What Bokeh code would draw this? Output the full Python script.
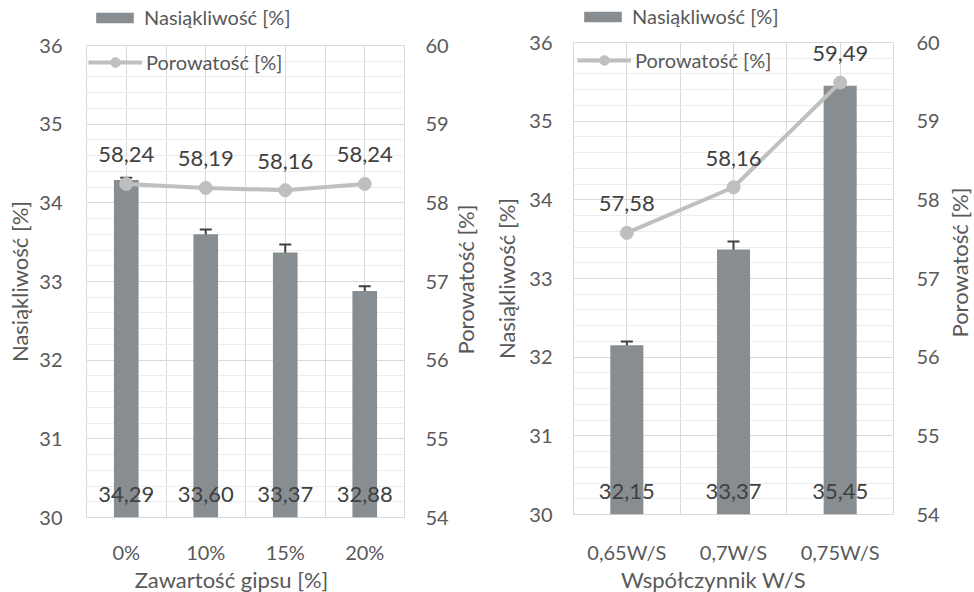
import math
from bokeh.plotting import figure
from bokeh.models import (Range1d, LinearAxis, FixedTicker, SingleIntervalTicker, Label,
                          ColumnDataSource, Whisker, TeeHead, Legend, LegendItem, LabelSet)
from bokeh.core.properties import value
from bokeh.layouts import row, column
from bokeh.embed import file_html
from bokeh.resources import INLINE

# ---- data: panel 1 (gypsum content) ----
gyp_categories = ["0%", "10%", "15%", "20%"]
gyp_absorption = [34.29, 33.60, 33.37, 32.88]
gyp_absorption_err = [0.03, 0.06, 0.10, 0.06]
gyp_porosity = [58.24, 58.19, 58.16, 58.24]

# ---- data: panel 2 (W/S ratio) ----
ws_categories = ["0,65W/S", "0,7W/S", "0,75W/S"]
ws_absorption = [32.15, 33.37, 35.45]
ws_absorption_err = [0.05, 0.10, 0.05]
ws_porosity = [57.58, 58.16, 59.49]

abs_range = (30, 36)
por_range = (54, 60)

BAR = "#878d90"
LINE = "#bfbfbf"
LBL = "#404040"
AX = "#595959"
GRID = "#d9d9d9"
MINOR = "#ececec"
FONT = "Lato"

LEG_STYLE = dict(margin=0, padding=0, border_line_color=None, background_fill_alpha=0,
                 label_text_font=FONT, label_text_font_size="20px", label_text_color=AX,
                 label_height=24)
TITLE_STYLE = dict(x_units="screen", y_units="screen", text_align="center",
                   text_baseline="middle", text_font=FONT, text_font_size="22px",
                   text_color=AX)

TOP_STRIP = 30
BOTTOM_STRIP = 26
MAIN_H = 592 - TOP_STRIP - BOTTOM_STRIP


def fmt(v):
    return f"{v:.2f}".replace(".", ",")


def make_source(absorption, err, porosity):
    n = len(absorption)
    return ColumnDataSource(dict(
        x=[i + 0.5 for i in range(n)], a=absorption, por=porosity,
        up=[a + e for a, e in zip(absorption, err)],
        lo=[a - e for a, e in zip(absorption, err)],
        a_lbl=[fmt(v) for v in absorption],
        p_lbl=[fmt(v) for v in porosity],
        base=[abs_range[0]] * n,
    ))


def blank(width, height, left, right, top, bottom):
    f = figure(width=width, height=height, x_range=Range1d(100, 101),
               y_range=Range1d(100, 101), x_axis_type=None, y_axis_type=None,
               output_backend="svg", toolbar_location=None, title=None,
               min_border_left=left, min_border_right=right,
               min_border_top=top, min_border_bottom=bottom)
    f.outline_line_color = None
    return f


def legend_strip(src, width, left, right, loc):
    # strip above the plot area holding the bar-series legend entry
    f = blank(width, TOP_STRIP, left, right, 0, 0)
    r = f.vbar(x="x", top="a", bottom="base", width=0.31, source=src,
               fill_color=BAR, line_color=None)
    f.add_layout(Legend(items=[LegendItem(label="Nasiąkliwość [%]", renderers=[r])],
                        location=loc, glyph_width=47, glyph_height=13, label_standoff=6,
                        **LEG_STYLE))
    return f


def side_title(width, top, bottom, pos):
    # secondary-axis title, reading bottom to top
    f = blank(width, MAIN_H, 0, 0, top, bottom)
    f.add_layout(Label(x=pos[0], y=pos[1], text="Porowatość [%]", angle=math.pi / 2,
                       **TITLE_STYLE))
    return f


def bottom_title(width, left, right, text, pos):
    f = blank(width, BOTTOM_STRIP, left, right, 0, 0)
    f.add_layout(Label(x=pos[0], y=pos[1], text=text, **TITLE_STYLE))
    return f


def panel(categories, src, width, borders, st, leg2):
    b_left, b_right, b_top, b_bottom = borders
    n = len(categories)
    xs = [i + 0.5 for i in range(n)]
    p = figure(width=width, height=MAIN_H, x_range=Range1d(0, n),
               y_range=Range1d(*abs_range), output_backend="svg", toolbar_location=None,
               min_border_left=b_left, min_border_right=b_right,
               min_border_top=b_top, min_border_bottom=b_bottom)
    p.extra_y_ranges = {"por": Range1d(*por_range)}
    p.outline_line_color = GRID
    p.background_fill_color = "white"

    # grids
    p.xgrid.ticker = FixedTicker(ticks=[i * 0.5 for i in range(2 * n + 1)])
    p.xgrid.grid_line_color = GRID
    yt = SingleIntervalTicker(interval=1, num_minor_ticks=5)
    p.yaxis.ticker = yt
    p.ygrid.ticker = yt
    p.ygrid.grid_line_color = GRID
    p.ygrid.minor_grid_line_color = MINOR

    # axes
    p.xaxis.ticker = FixedTicker(ticks=xs)
    p.xaxis.major_label_overrides = {x: c for x, c in zip(xs, categories)}
    p.yaxis.axis_label = "Nasiąkliwość [%]"
    ax2 = LinearAxis(y_range_name="por", ticker=SingleIntervalTicker(interval=1))
    p.add_layout(ax2, "right")
    for ax in [p.xaxis[0], p.yaxis[0], ax2]:
        ax.axis_line_color = None
        ax.major_tick_line_color = None
        ax.minor_tick_line_color = None
        ax.major_tick_out = 0
        ax.major_tick_in = 0
        ax.minor_tick_out = 0
        ax.major_label_text_font = FONT
        ax.major_label_text_font_size = "20px"
        ax.major_label_text_color = AX
        ax.axis_label_text_font = FONT
        ax.axis_label_text_font_size = "22px"
        ax.axis_label_text_font_style = "normal"
        ax.axis_label_text_color = AX
    p.xaxis.major_label_standoff = st["x_lab"]
    p.yaxis.major_label_standoff = st["l_lab"]
    p.yaxis.axis_label_standoff = st["l_tit"]
    ax2.major_label_standoff = st["r_lab"]

    # bars
    p.vbar(x="x", top="a", bottom="base", width=0.31, source=src,
           fill_color=BAR, line_color=None)
    p.add_layout(Whisker(source=src, base="x", upper="up", lower="lo",
                         line_color=LBL, line_width=2,
                         upper_head=TeeHead(size=12, line_color=LBL, line_width=2),
                         lower_head=TeeHead(size=12, line_color=LBL, line_width=2)))

    # porosity line
    ln = p.line(x="x", y="por", source=src, y_range_name="por",
                line_color=LINE, line_width=4)
    sc = p.scatter(x="x", y="por", source=src, y_range_name="por", size=13,
                   fill_color=LINE, line_color=LINE)

    # data labels
    p.add_layout(LabelSet(x="x", y="por", text="p_lbl", source=src, y_range_name="por",
                          text_align="center", text_baseline="middle", y_offset=29,
                          text_font=value(FONT), text_font_size=value("22px"),
                          text_color=LBL))
    p.add_layout(LabelSet(x="x", y="base", text="a_lbl", source=src,
                          text_align="center", text_baseline="middle", y_offset=23,
                          text_font=value(FONT), text_font_size=value("22px"),
                          text_color=LBL))

    # line legend (inside plot area, top-left)
    p.add_layout(Legend(items=[LegendItem(label="Porowatość [%]", renderers=[ln, sc])],
                        location=leg2, glyph_width=54, glyph_height=24, label_standoff=4,
                        **LEG_STYLE))
    return p


src1 = make_source(gyp_absorption, gyp_absorption_err, gyp_porosity)
src2 = make_source(ws_absorption, ws_absorption_err, ws_porosity)

# left group: frame x 86..406, y 45..520
p1 = panel(gyp_categories, src1, 451, (86, 45, 45 - TOP_STRIP, 46),
           dict(x_lab=22, l_lab=24, l_tit=3, r_lab=21), (2, 443))
t1 = side_title(36, 45 - TOP_STRIP, 46, (14, 238))
s1 = legend_strip(src1, 487, 86, 81, (5, 1))
b1 = bottom_title(487, 86, 81, "Zawartość gipsu [%]", (145, 13))

# right group: frame x 573..894, y 42..517
p2 = panel(ws_categories, src2, 455, (86, 48, 42 - TOP_STRIP, 49),
           dict(x_lab=25, l_lab=21, l_tit=6, r_lab=23), (4, 442))
t2 = side_title(32, 42 - TOP_STRIP, 49, (17, 252))
s2 = legend_strip(src2, 487, 86, 80, (6, 2))
b2 = bottom_title(487, 86, 80, "Współczynnik W/S", (140, 13))

layout = row(column(s1, row(p1, t1), b1), column(s2, row(p2, t2), b2))
open("out.html", "w").write(file_html(layout, INLINE))
